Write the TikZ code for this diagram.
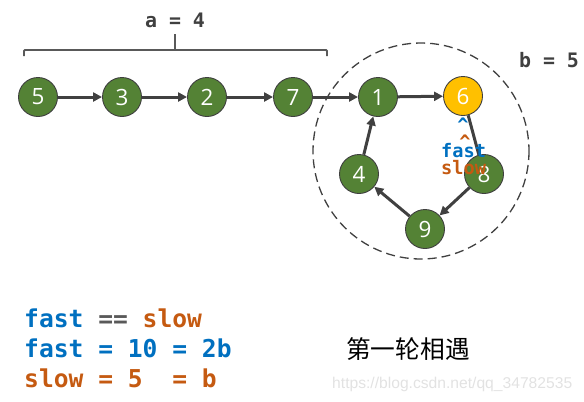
\documentclass[tikz,border=0pt]{standalone}
\usepackage{fontspec}
\setmainfont{Open Sans}
\setmonofont{DejaVu Sans Mono}
\newfontfamily\cjkfont{Noto Sans CJK SC}
\newfontfamily\wmfont{Liberation Sans}
\usetikzlibrary{arrows.meta}
\definecolor{ndgreen}{HTML}{548235}
\definecolor{ndyellow}{HTML}{FFC000}
\definecolor{ndline}{HTML}{3F3F3F}
\definecolor{arcol}{HTML}{404040}
\definecolor{fastblue}{HTML}{0070C0}
\definecolor{sloworange}{HTML}{C55A11}
\definecolor{eqgray}{HTML}{595959}
\definecolor{wmgray}{HTML}{E2E2E2}
\begin{document}
\begin{tikzpicture}[x=1bp,y=-1bp,
  nd/.style={circle, minimum size=39bp, inner sep=0pt, fill=ndgreen, draw=ndline, line width=0.9bp, text=white, font=\fontsize{22.5}{22.5}\selectfont},
  ndhi/.style={nd, fill=ndyellow},
  ar/.style={draw=arcol, line width=3bp, -{Triangle[length=9bp,width=9bp]}},
  ln/.style={draw=arcol, line width=3bp},
  monob/.style={font=\ttfamily\bfseries\fontsize{24.7}{30}\selectfont, inner sep=0pt},
  monos/.style={font=\ttfamily\bfseries\fontsize{18.7}{18.7}\selectfont, inner sep=0pt},
  lbl/.style={font=\ttfamily\bfseries\fontsize{20}{20}\selectfont, text=arcol, inner sep=0pt}]
\useasboundingbox (0,0) rectangle (584,401);
% loop region
\draw[arcol, line width=1.3bp, dash pattern=on 9bp off 5bp] (421,151) circle (108);
% brace
\draw[eqgray, line width=1.8bp, rounded corners=1bp] (24,56) -- (24,50) -- (327,50) -- (327,56);
\draw[eqgray, line width=1.8bp] (175,50) -- (175,34);
\node[lbl] (la) at (175,20) {a = 4};
\node[lbl] (lb) at (549,60) {b = 5};
% nodes
\node[nd] (n5) at (38,97) {5};
\node[nd] (n3) at (122,97) {3};
\node[nd] (n2) at (207,97) {2};
\node[nd] (n7) at (293,97) {7};
\node[nd] (n1) at (378,97) {1};
\node[ndhi] (n6) at (463,96) {6};
\node[nd] (n4) at (359,174) {4};
\node[nd] (n8) at (484,174) {8};
\node[nd] (n9) at (425,229) {9};
% connectors
\draw[ar] (n5) -- (n3);
\draw[ar] (n3) -- (n2);
\draw[ar] (n2) -- (n7);
\draw[ar] (n7) -- (n1);
\draw[ar] (n1) -- (n6);
\draw[ln] (n8) -- (n6);
\draw[ar] (n8) -- (n9);
\draw[ar] (n9) -- (n4);
\draw[ar] (n4) -- (n1);
% pointers
\node[monos, text=fastblue, anchor=base] (cf) at (463,131) {\^{}};
\node[monos, text=sloworange, anchor=base] (cs) at (465,148) {\^{}};
\node[monos, text=fastblue, anchor=base west] (tf) at (441,157) {fast};
\node[monos, text=sloworange, anchor=base west] (ts) at (441,174) {slow};
% equations
\node[monob, anchor=base west] (e1) at (24,327) {\textcolor{fastblue}{fast} \textcolor{eqgray}{==} \textcolor{sloworange}{slow}};
\node[monob, anchor=base west, text=fastblue] (e2) at (24,357) {fast = 10 = 2b};
\node[monob, anchor=base west, text=sloworange] (e3) at (24,387) {slow = 5\ \ = b};
\node[font=\cjkfont\fontsize{24.8}{24.8}\selectfont, inner sep=0pt] (title) at (408,349) {第一轮相遇};
\node[font=\wmfont\fontsize{15.7}{15.7}\selectfont, text=wmgray, inner sep=0pt, anchor=base west] (wm) at (332,388) {https://blog.csdn.net/qq\_34782535};
\end{tikzpicture}
\end{document}
